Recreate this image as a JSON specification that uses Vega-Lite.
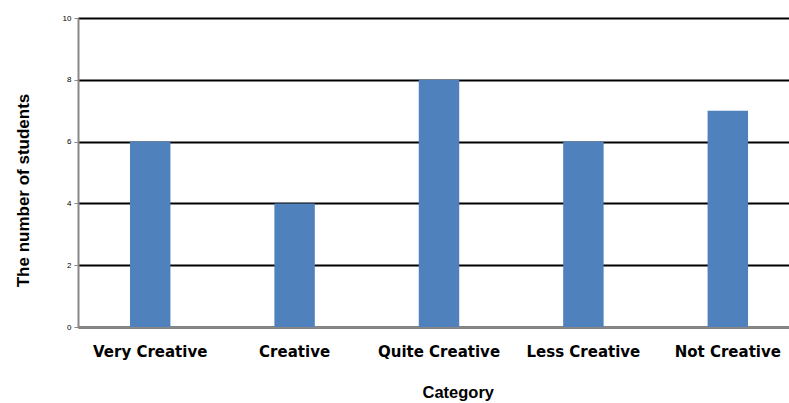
{
  "$schema": "https://vega.github.io/schema/vega-lite/v6.json",
  "width": 722,
  "height": 309,
  "autosize": {"type": "none"},
  "padding": {"left": 78, "top": 18, "right": 0, "bottom": 76},
  "config": {"view": {"stroke": null}, "font": "Liberation Sans"},
  "data": {
    "values": [
      {"category": "Very Creative", "students": 6},
      {"category": "Creative", "students": 4},
      {"category": "Quite Creative", "students": 8},
      {"category": "Less Creative", "students": 6},
      {"category": "Not Creative", "students": 7}
    ]
  },
  "mark": {"type": "bar", "color": "#4F81BD"},
  "encoding": {
    "x": {
      "field": "category",
      "type": "nominal",
      "sort": null,
      "scale": {"paddingInner": 0.72, "paddingOuter": 0.36},
      "axis": {
        "title": "Category",
        "titleFont": "Liberation Sans",
        "titleFontSize": 16.5,
        "titleFontWeight": "bold",
        "titleColor": "#000",
        "titlePadding": 25,
        "titleAnchor": "start",
        "titleX": 344,
        "labelAngle": 0,
        "labelFont": "DejaVu Sans",
        "labelFontSize": 15,
        "labelFontWeight": "bold",
        "labelColor": "#000",
        "labelPadding": 17,
        "ticks": false,
        "domainColor": "#888",
        "domainWidth": 2
      }
    },
    "y": {
      "field": "students",
      "type": "quantitative",
      "scale": {"domain": [0, 10]},
      "axis": {
        "title": "The number of students",
        "titleFont": "Liberation Sans",
        "titleFontSize": 17,
        "titleFontWeight": "bold",
        "titleColor": "#000",
        "titlePadding": 30,
        "titleY": 172,
        "values": [0, 2, 4, 6, 8, 10],
        "labelFontSize": 8,
        "labelColor": "#000",
        "labelPadding": 3,
        "tickColor": "#888",
        "tickSize": 4,
        "domainColor": "#888",
        "domainWidth": 2,
        "grid": true,
        "gridColor": "#000",
        "gridWidth": 2
      }
    }
  }
}
